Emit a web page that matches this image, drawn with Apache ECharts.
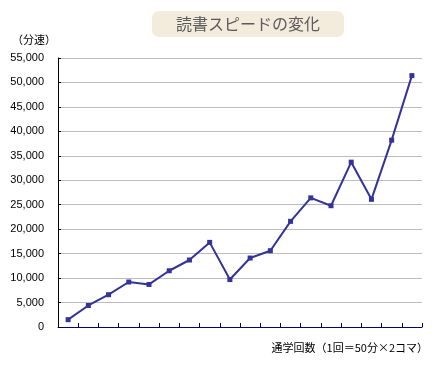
<!DOCTYPE html>
<html><head><meta charset="utf-8">
<script src="https://cdn.jsdelivr.net/npm/echarts@6/dist/echarts.min.js"></script>
<style>html,body{margin:0;padding:0;background:#fff}#c{width:432px;height:368px}</style>
</head><body><div id="c"></div>
<script>
const sessions = ['1','2','3','4','5','6','7','8','9','10','11','12','13','14','15','16','17','18'];
const speeds = [1500, 4400, 6600, 9200, 8700, 11500, 13700, 17300, 9700, 14100, 15600, 21600, 26400, 24800, 33700, 26100, 38200, 51400];
const yTicks = {min: 0, max: 55000, interval: 5000};
const titleText = '読書スピードの変化';
const yName = '（分速）';
const xName = '通学回数（1回＝50分×2コマ）';

const chart = echarts.init(document.getElementById('c'), null, {renderer: 'canvas'});
chart.setOption({
  animation: false,
  backgroundColor: '#fff',
  title: {
    text: titleText, left: 152, top: 11,
    backgroundColor: '#F3ECDD', borderRadius: 7,
    padding: [5, 24, 5, 24],
    textStyle: {fontFamily: 'Noto Sans CJK JP', fontSize: 16, fontWeight: 'normal', color: '#5a5a5a'}
  },
  grid: {left: 58, right: 10, top: 58, bottom: 41, containLabel: false},
  xAxis: {
    type: 'category', data: sessions, boundaryGap: true,
    name: xName, nameLocation: 'end', nameGap: 6,
    nameTextStyle: {fontFamily: 'Noto Sans CJK JP', fontSize: 11, color: '#000', align: 'right', verticalAlign: 'top', padding: [15, 0, 0, 0]},
    axisLine: {lineStyle: {color: '#000080', width: 1}},
    axisTick: {show: true, inside: true, length: 4, lineStyle: {color: '#000', width: 1}},
    axisLabel: {show: false},
    splitLine: {show: false}
  },
  yAxis: {
    type: 'value', min: yTicks.min, max: yTicks.max, interval: yTicks.interval,
    name: yName, nameLocation: 'end', nameGap: 13,
    nameTextStyle: {fontFamily: 'Noto Sans CJK JP', fontSize: 11, color: '#000', align: 'right', padding: [0, 2, 0, 0]},
    axisLine: {show: true, lineStyle: {color: '#000', width: 1}},
    axisTick: {show: true, inside: true, length: 3, lineStyle: {color: '#000'}},
    axisLabel: {
      margin: 14, color: '#000', fontFamily: 'Liberation Sans', fontSize: 11,
      formatter: v => v.toLocaleString('en-US')
    },
    splitLine: {show: true, lineStyle: {color: '#BDBDBD', width: 1}}
  },
  series: [{
    type: 'line', data: speeds,
    symbol: 'rect', symbolSize: 5,
    lineStyle: {color: '#333399', width: 2},
    itemStyle: {color: '#333399'}
  }]
});
</script></body></html>
